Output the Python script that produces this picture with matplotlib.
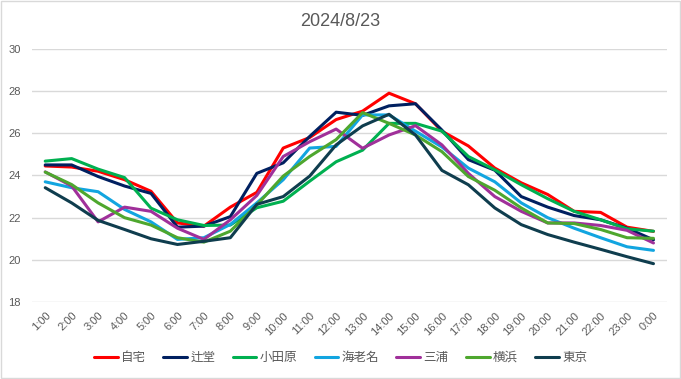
import matplotlib
matplotlib.use('Agg')
import matplotlib.pyplot as plt
from matplotlib.patches import Rectangle

plt.rcParams['font.family'] = ['Liberation Sans', 'Noto Sans CJK JP', 'DejaVu Sans']

# ── Data ────────────────────────────────────────────────────────────────────
hours = ["1:00", "2:00", "3:00", "4:00", "5:00", "6:00", "7:00", "8:00",
         "9:00", "10:00", "11:00", "12:00", "13:00", "14:00", "15:00", "16:00",
         "17:00", "18:00", "19:00", "20:00", "21:00", "22:00", "23:00", "0:00"]

jitaku   = [24.45, 24.4, 24.2, 23.8, 23.25, 21.75, 21.6, 22.5, 23.2, 25.3, 25.8, 26.65,
            27.05, 27.9, 27.4, 26.1, 25.4, 24.35, 23.65, 23.1, 22.3, 22.25, 21.55, 21.35]
tsujido  = [24.5, 24.5, 23.95, 23.5, 23.15, 21.55, 21.6, 22.05, 24.1, 24.6, 25.85, 27.0,
            26.85, 27.3, 27.4, 26.15, 24.75, 24.25, 23.0, 22.5, 22.1, 21.9, 21.5, 20.95]
odawara  = [24.68, 24.8, 24.3, 23.9, 22.45, 21.9, 21.63, 21.65, 22.47, 22.78, 23.73, 24.65,
            25.2, 26.47, 26.47, 26.1, 24.9, 24.27, 23.56, 22.9, 22.3, 21.9, 21.47, 21.36]
ebina    = [23.7, 23.42, 23.23, 22.39, 21.8, 20.97, 21.05, 21.68, 22.7, 23.8, 25.3, 25.38,
            26.87, 26.87, 26.1, 25.35, 24.35, 23.7, 22.7, 22.0, 21.5, 21.05, 20.62, 20.45]
miura    = [24.17, 23.5, 21.8, 22.5, 22.3, 21.5, 20.97, 21.9, 23.05, 24.9, 25.6, 26.2,
            25.29, 25.92, 26.36, 25.45, 24.1, 23.0, 22.3, 21.75, 21.75, 21.63, 21.4, 20.8]
yokohama = [24.16, 23.57, 22.7, 22.0, 21.65, 21.05, 20.84, 21.36, 22.6, 23.97, 24.9, 25.7,
            26.98, 26.47, 25.92, 25.13, 23.95, 23.3, 22.46, 21.75, 21.72, 21.44, 21.05, 21.02]
tokyo    = [23.42, 22.7, 21.87, 21.44, 21.0, 20.73, 20.88, 21.05, 22.63, 23.0, 23.97, 25.45,
            26.35, 26.9, 25.92, 24.24, 23.56, 22.46, 21.67, 21.2, 20.84, 20.5, 20.15, 19.82]

names  = ["自宅", "辻堂", "小田原", "海老名", "三浦", "横浜", "東京"]
series = [jitaku, tsujido, odawara, ebina, miura, yokohama, tokyo]
colors = ["#FF0000", "#002060", "#00B050", "#12A5E0", "#A0309A", "#4EA72E", "#0F3D4E"]

# ── Plot ────────────────────────────────────────────────────────────────────
fig = plt.figure(figsize=(6.81, 3.79), dpi=100)
ax = fig.add_axes([0.047, 0.203, 0.932, 0.668])

x = list(range(len(hours)))
for name, vals, c in zip(names, series, colors):
    ax.plot(x, vals, color=c, lw=2.2, label=name, solid_capstyle='round', solid_joinstyle='round')

ax.set_xlim(-0.5, len(hours) - 0.5)
ax.set_ylim(18, 30)
ax.set_yticks(range(18, 31, 2))
ax.set_xticks(x)
ax.set_xticklabels(hours, rotation=45, ha='right', rotation_mode='anchor')
ax.tick_params(axis='both', length=0, labelsize=8, colors='#595959')
ax.tick_params(axis='x', pad=6)
ax.tick_params(axis='y', pad=8)
ax.grid(axis='y', color='#D9D9D9', lw=1)
ax.set_axisbelow(True)
for s in ax.spines.values():
    s.set_visible(False)

fig.text(0.5, 0.942, "2024/8/23", ha='center', va='center', fontsize=13, color='#595959')

leg = fig.legend(loc='center', bbox_to_anchor=(0.5, 0.057), ncol=7, frameon=False,
                 handlelength=1.9, handletextpad=0.25, columnspacing=1.4,
                 prop={'family': ['Noto Sans CJK JP', 'DejaVu Sans'], 'size': 9})
for t in leg.get_texts():
    t.set_color('#595959')

fig.patches.append(Rectangle((0.001, 0.002), 0.997, 0.995, transform=fig.transFigure,
                             fill=False, edgecolor='#D9D9D9', lw=1))

fig.savefig("out.png", dpi=100)
